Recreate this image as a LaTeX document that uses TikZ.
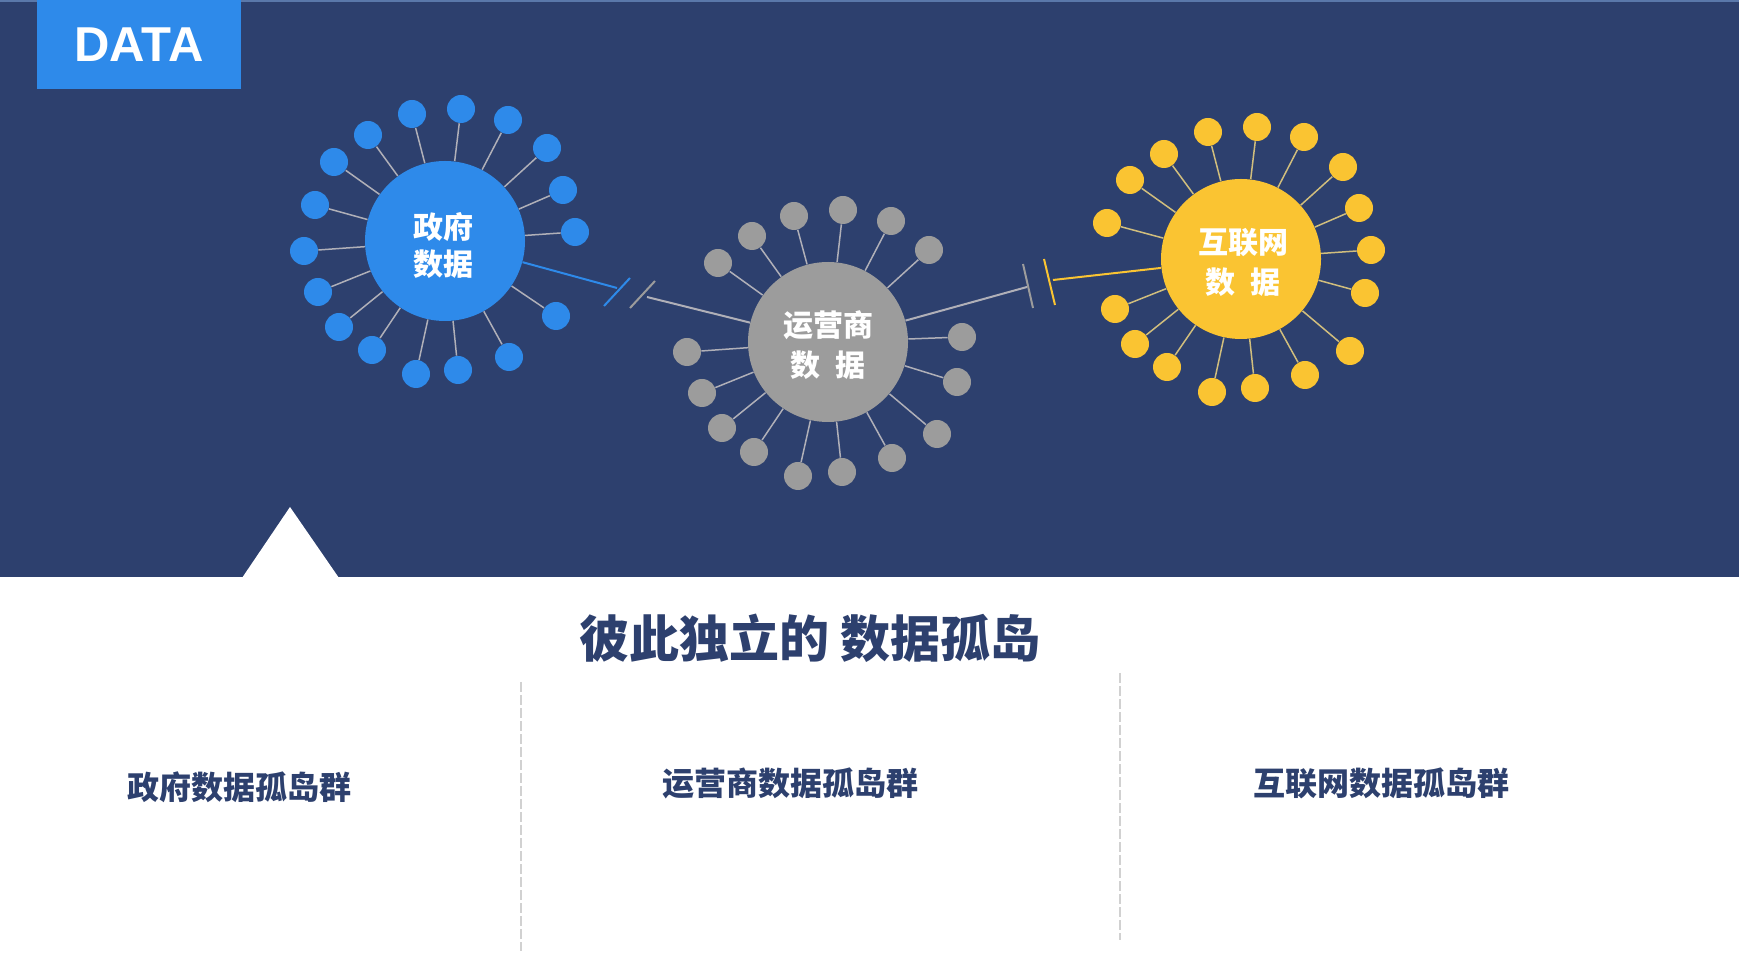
\documentclass[tikz,border=0pt]{standalone}
\usepackage{fontspec}
\setmainfont{Liberation Sans}
\newfontfamily\cjk{Noto Sans CJK SC}
\newlength{\px}
\setlength{\px}{0.5pt}
\definecolor{bandcolor}{rgb}{0.176000, 0.251000, 0.431000}
\definecolor{topcolor}{rgb}{0.353000, 0.471000, 0.667000}
\definecolor{govcolor}{rgb}{0.180000, 0.541000, 0.918000}
\definecolor{opscolor}{rgb}{0.612000, 0.612000, 0.612000}
\definecolor{webcolor}{rgb}{0.980000, 0.769000, 0.196000}
\definecolor{spokecolor}{rgb}{0.690000, 0.690000, 0.720000}
\definecolor{webspokecolor}{rgb}{0.820000, 0.745000, 0.490000}
\definecolor{sepcolor}{rgb}{0.820000, 0.820000, 0.820000}
\tikzset{
  hub/.style={circle,inner sep=0pt,minimum size=160\px,text=white,align=center,
    font=\cjk\bfseries\fontsize{15}{19}\selectfont},
  sat/.style={circle,inner sep=0pt,minimum size=28\px},
  spoke/.style={line width=1.5\px,draw=spokecolor},
  cutline/.style={line width=2\px},
  caption/.style={text=bandcolor,font=\cjk\bfseries\fontsize{16}{18}\selectfont},
}

\begin{document}
\begin{tikzpicture}
\pgftransformxscale{1.000000}
\pgftransformyscale{-1.000000}
\useasboundingbox (0\px,0\px) rectangle (1739\px,961\px);
% background
\fill[white] (0\px,0\px) rectangle (1739\px,961\px);
\fill[bandcolor] (0\px,0\px) rectangle (1739\px,577\px);
\draw[topcolor,line width=2\px] (0\px,1\px)--(1739\px,1\px);
\fill[white] (242\px,578\px)--(290\px,507\px)--(339\px,578\px)--cycle;
% tab
\node[fill=govcolor,minimum width=204\px,minimum height=89\px,inner sep=0pt,text=white,
  font=\bfseries\fontsize{24.5}{26}\selectfont] (tab) at (139\px,44.5\px) {DATA};
% hubs
\node[hub,fill=govcolor] (gov) at (445\px,241\px) {};
\node[hub,fill=opscolor] (ops) at (828\px,342\px) {};
\node[hub,fill=webcolor] (web) at (1241\px,259\px) {};
% government satellites
\node[sat,fill=govcolor] (g1) at (412\px,114\px) {};
\node[sat,fill=govcolor] (g2) at (461\px,109\px) {};
\node[sat,fill=govcolor] (g3) at (508\px,120\px) {};
\node[sat,fill=govcolor] (g4) at (547\px,148\px) {};
\node[sat,fill=govcolor] (g5) at (563\px,190\px) {};
\node[sat,fill=govcolor] (g6) at (575\px,232\px) {};
\node[sat,fill=govcolor] (g7) at (556\px,316\px) {};
\node[sat,fill=govcolor] (g8) at (509\px,357\px) {};
\node[sat,fill=govcolor] (g9) at (458\px,370\px) {};
\node[sat,fill=govcolor] (g10) at (416\px,374\px) {};
\node[sat,fill=govcolor] (g11) at (372\px,350\px) {};
\node[sat,fill=govcolor] (g12) at (339\px,327\px) {};
\node[sat,fill=govcolor] (g13) at (318\px,292\px) {};
\node[sat,fill=govcolor] (g14) at (304\px,251\px) {};
\node[sat,fill=govcolor] (g15) at (315\px,205\px) {};
\node[sat,fill=govcolor] (g16) at (334\px,162\px) {};
\node[sat,fill=govcolor] (g17) at (368\px,135\px) {};
\draw[spoke] (gov)--(g1); \draw[spoke] (gov)--(g2); \draw[spoke] (gov)--(g3);
\draw[spoke] (gov)--(g4); \draw[spoke] (gov)--(g5); \draw[spoke] (gov)--(g6);
\draw[spoke] (gov)--(g7); \draw[spoke] (gov)--(g8); \draw[spoke] (gov)--(g9);
\draw[spoke] (gov)--(g10); \draw[spoke] (gov)--(g11); \draw[spoke] (gov)--(g12);
\draw[spoke] (gov)--(g13); \draw[spoke] (gov)--(g14); \draw[spoke] (gov)--(g15);
\draw[spoke] (gov)--(g16); \draw[spoke] (gov)--(g17);
% operator satellites
\node[sat,fill=opscolor] (o1) at (718\px,263\px) {};
\node[sat,fill=opscolor] (o2) at (752\px,236\px) {};
\node[sat,fill=opscolor] (o3) at (794\px,216\px) {};
\node[sat,fill=opscolor] (o4) at (843\px,210\px) {};
\node[sat,fill=opscolor] (o5) at (891\px,221\px) {};
\node[sat,fill=opscolor] (o6) at (929\px,250\px) {};
\node[sat,fill=opscolor] (o7) at (962\px,337\px) {};
\node[sat,fill=opscolor] (o8) at (957\px,382\px) {};
\node[sat,fill=opscolor] (o9) at (937\px,434\px) {};
\node[sat,fill=opscolor] (o10) at (892\px,458\px) {};
\node[sat,fill=opscolor] (o11) at (842\px,472\px) {};
\node[sat,fill=opscolor] (o12) at (798\px,476\px) {};
\node[sat,fill=opscolor] (o13) at (754\px,452\px) {};
\node[sat,fill=opscolor] (o14) at (722\px,428\px) {};
\node[sat,fill=opscolor] (o15) at (702\px,393\px) {};
\node[sat,fill=opscolor] (o16) at (687\px,352\px) {};
\draw[spoke] (ops)--(o1); \draw[spoke] (ops)--(o2); \draw[spoke] (ops)--(o3);
\draw[spoke] (ops)--(o4); \draw[spoke] (ops)--(o5); \draw[spoke] (ops)--(o6);
\draw[spoke] (ops)--(o7); \draw[spoke] (ops)--(o8); \draw[spoke] (ops)--(o9);
\draw[spoke] (ops)--(o10); \draw[spoke] (ops)--(o11); \draw[spoke] (ops)--(o12);
\draw[spoke] (ops)--(o13); \draw[spoke] (ops)--(o14); \draw[spoke] (ops)--(o15);
\draw[spoke] (ops)--(o16);
% internet satellites
\node[sat,fill=webcolor] (w1) at (1208\px,132\px) {};
\node[sat,fill=webcolor] (w2) at (1257\px,127\px) {};
\node[sat,fill=webcolor] (w3) at (1304\px,137\px) {};
\node[sat,fill=webcolor] (w4) at (1343\px,167\px) {};
\node[sat,fill=webcolor] (w5) at (1359\px,208\px) {};
\node[sat,fill=webcolor] (w6) at (1371\px,250\px) {};
\node[sat,fill=webcolor] (w7) at (1365\px,293\px) {};
\node[sat,fill=webcolor] (w8) at (1350\px,351\px) {};
\node[sat,fill=webcolor] (w9) at (1305\px,375\px) {};
\node[sat,fill=webcolor] (w10) at (1255\px,388\px) {};
\node[sat,fill=webcolor] (w11) at (1212\px,392\px) {};
\node[sat,fill=webcolor] (w12) at (1167\px,367\px) {};
\node[sat,fill=webcolor] (w13) at (1135\px,344\px) {};
\node[sat,fill=webcolor] (w14) at (1115\px,309\px) {};
\node[sat,fill=webcolor] (w15) at (1107\px,223\px) {};
\node[sat,fill=webcolor] (w16) at (1130\px,180\px) {};
\node[sat,fill=webcolor] (w17) at (1164\px,154\px) {};
\begin{scope}[every path/.style={spoke,draw=webspokecolor}]
\draw (web)--(w1); \draw (web)--(w2); \draw (web)--(w3);
\draw (web)--(w4); \draw (web)--(w5); \draw (web)--(w6);
\draw (web)--(w7); \draw (web)--(w8); \draw (web)--(w9);
\draw (web)--(w10); \draw (web)--(w11); \draw (web)--(w12);
\draw (web)--(w13); \draw (web)--(w14); \draw (web)--(w15);
\draw (web)--(w16); \draw (web)--(w17);
\end{scope}
% broken links
\coordinate (govcut) at (617\px,288\px);
\coordinate (govtickA) at (630\px,278\px);
\coordinate (govtickB) at (604\px,306\px);
\coordinate (opstickA) at (655\px,281\px);
\coordinate (opstickB) at (630\px,308\px);
\coordinate (opscutL) at (647\px,297\px);
\draw[cutline,govcolor] (gov)--(govcut);
\draw[cutline,govcolor] (govtickA)--(govtickB);
\draw[cutline,opscolor] (opstickA)--(opstickB);
\draw[cutline,spokecolor] (opscutL)--(ops);
\coordinate (opscutR) at (1027\px,287\px);
\coordinate (opstickC) at (1023\px,264\px);
\coordinate (opstickD) at (1033\px,308\px);
\coordinate (webtickA) at (1044\px,259\px);
\coordinate (webtickB) at (1055\px,305\px);
\coordinate (webcut) at (1053\px,280\px);
\draw[cutline,spokecolor] (ops)--(opscutR);
\draw[cutline,opscolor] (opstickC)--(opstickD);
\draw[cutline,webcolor] (webtickA)--(webtickB);
\draw[cutline,webcolor] (webcut)--(web);
% hub labels
\node[text=white,align=center,font=\cjk\bfseries\fontsize{15}{18.5}\selectfont] (govtext) at (443\px,246\px) {政府\\数据};
\node[text=white,align=center,font=\cjk\bfseries\fontsize{15}{20}\selectfont] (opstext) at (828\px,345\px) {运营商\\数\hspace{0.5em}据};
\node[text=white,align=center,font=\cjk\bfseries\fontsize{15}{20}\selectfont] (webtext) at (1243\px,262\px) {互联网\\数\hspace{0.5em}据};
% lower half
\node[text=bandcolor,font=\cjk\bfseries\fontsize{25}{28}\selectfont] (title) at (810\px,638\px) {彼此独立的 数据孤岛};
\draw[sepcolor,line width=2\px,dash pattern=on 10\px off 3\px] (521\px,682\px)--(521\px,951\px);
\draw[sepcolor,line width=2\px,dash pattern=on 10\px off 3\px] (1120\px,673\px)--(1120\px,940\px);
\node[caption] (govcap) at (239\px,787\px) {政府数据孤岛群};
\node[caption] (opscap) at (790\px,783\px) {运营商数据孤岛群};
\node[caption] (webcap) at (1381\px,783\px) {互联网数据孤岛群};
\end{tikzpicture}
\end{document}
